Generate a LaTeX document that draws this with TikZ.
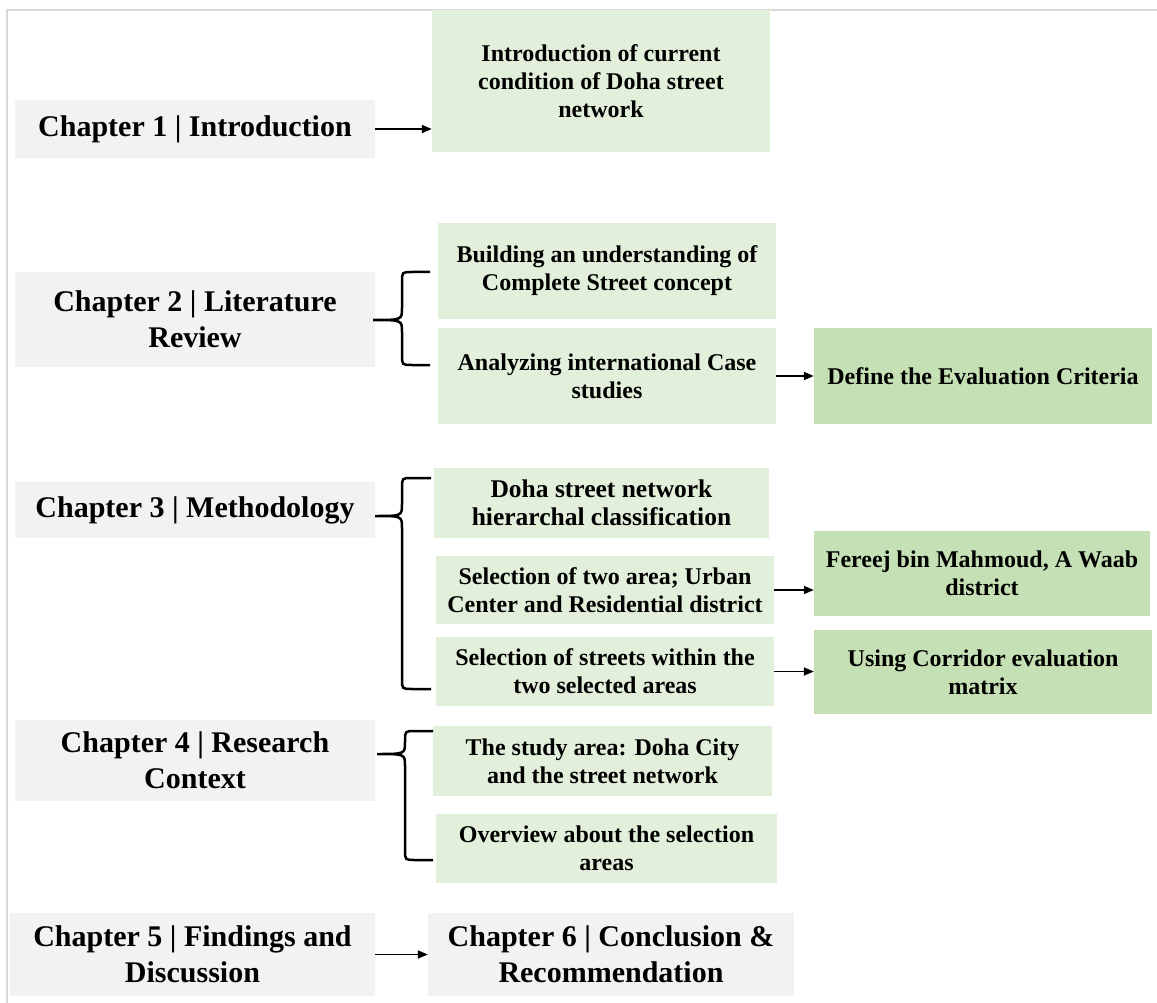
\documentclass[tikz,border=0pt]{standalone}
\usepackage{fontspec}
\setmainfont{Liberation Serif}
\usepackage{tikz}
\usetikzlibrary{arrows.meta}
\colorlet{chapgray}{black!5}
\definecolor{lgreen}{HTML}{E2EFDA}
\definecolor{dgreen}{HTML}{C5E0B4}
\definecolor{framegray}{HTML}{D9D9D9}
\tikzstyle{chap}=[fill=chapgray,align=center,inner sep=0pt,font=\fontsize{30}{36}\selectfont\bfseries]
\tikzstyle{task}=[fill=lgreen,align=center,inner sep=0pt,font=\fontsize{24}{28}\selectfont\bfseries]
\tikzstyle{result}=[task,fill=dgreen]
\tikzstyle{link}=[line width=1.8pt,-{Triangle[length=10pt,width=8pt]}]
\tikzstyle{brace}=[line width=2.5pt]
\tikzstyle{frame}=[line width=2pt,framegray]
\tikzset{dims/.style 2 args={minimum width=#1pt,minimum height=#2pt}}
% curly brace: tip x, arm x, end x, top y, tip y, bottom y
\newcommand\chbrace[6]{%
  \draw[brace] (#3,#4) -- ({#2+10},#4) .. controls (#2,#4) .. (#2,{#4+10})
    -- (#2,{#5-12}) .. controls (#2,#5) .. (#1,#5) .. controls (#2,#5) .. (#2,{#5+12})
    -- (#2,{#6-10}) .. controls (#2,#6) .. ({#2+10},#6) -- (#3,#6);}

\begin{document}
\begin{tikzpicture}[x=1pt,y=-1pt]
	\useasboundingbox (0,0) rectangle (1157,1003);
	\draw[frame] (7,1003) -- (7,10) -- (1157,10);
	% chapters
	\node[chap,dims={360}{58}] (ch1) at (195,129) {Chapter 1 | Introduction};
	\node[chap,dims={360}{95}] (ch2) at (195,319.5) {Chapter 2 | Literature\\Review};
	\node[chap,dims={360}{56}] (ch3) at (195,510) {Chapter 3 | Methodology};
	\node[chap,dims={360}{81}] (ch4) at (195,760.5) {Chapter 4 | Research\\Context};
	\node[chap,dims={365}{83}] (ch5) at (192.5,954.5) {Chapter 5 | Findings and\\Discussion};
	\node[chap,dims={366}{83}] (ch6) at (611,954.5) {Chapter 6 | Conclusion \&\\Recommendation};
	% contents
	\node[task,dims={338}{142}] (intro) at (601,81) {Introduction of current\\condition of Doha street\\network};
	\node[task,dims={338}{96}] (build) at (607,271) {Building an understanding of\\Complete Street concept};
	\node[task,dims={338}{96}] (analyse) at (607,376) {Analyzing international Case\\studies};
	\node[task,dims={335}{70},font=\fontsize{25.5}{28}\selectfont\bfseries] (doha) at (601.5,503) {Doha street network\\hierarchal classification};
	\node[task,dims={338}{68}] (select) at (605,590) {Selection of two area; Urban\\Center and Residential district};
	\node[task,dims={338}{69}] (streets) at (605,671.5) {Selection of streets within the\\two selected areas};
	\node[task,dims={339}{70}] (study) at (602.5,761) {The study area: Doha City\\and the street network};
	\node[task,dims={341}{69}] (overview) at (606.5,848.5) {Overview about the selection\\areas};
	\node[result,dims={338}{96}] (define) at (983,376) {Define the Evaluation Criteria};
	\node[result,dims={336}{85}] (fereej) at (982,573.5) {Fereej bin Mahmoud, A Waab\\district};
	\node[result,dims={338}{84}] (corridor) at (983,672) {Using Corridor evaluation\\matrix};
	% links
	\draw[link] (ch1.east) -- (ch1.east -| intro.west);
	\draw[link] (analyse) -- (define);
	\draw[link] (select.east) -- (select.east -| fereej.west);
	\draw[link] (streets.east) -- (streets.east -| corridor.west);
	\draw[link] (ch5) -- (ch6);
	\chbrace{373}{402}{430}{272}{320}{365}
	\chbrace{375}{402}{431}{478}{516}{689}
	\chbrace{377}{405}{433}{731}{754}{860}
\end{tikzpicture}
\end{document}
